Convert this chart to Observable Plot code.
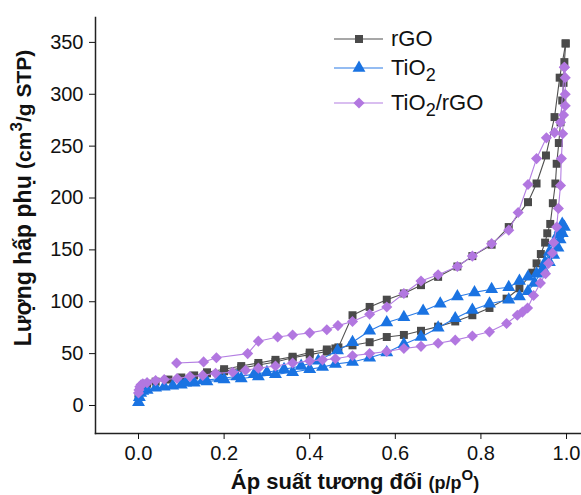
<!DOCTYPE html>
<html><head><meta charset="utf-8">
<script src="https://cdn.jsdelivr.net/npm/d3@7"></script>
<script src="https://cdn.jsdelivr.net/npm/@observablehq/plot@0.6"></script>
<style>
body{margin:0;background:#fff;}
#chart{position:relative;width:581px;height:495px;font-family:"Liberation Sans",Arial,sans-serif;}
#legend{position:absolute;left:334px;top:25px;font-size:22px;color:#111;}
#legend .row{position:absolute;left:0;white-space:nowrap;height:26px;}
#legend .row svg{position:absolute;left:0;top:0;}
#legend .row span{position:absolute;left:57px;top:0;line-height:26px;}
</style></head><body><div id="chart"><div id="legend"></div></div>
<script>
// ---------- data ----------
const seriesNames = ["rGO", "TiO2", "TiO2/rGO"];
const xTicks = [0, 0.2, 0.4, 0.6, 0.8, 1.0];
const yTicks = [0, 50, 100, 150, 200, 250, 300, 350];

const rgoAdsP = [0.0,0.002,0.005,0.01,0.02,0.04,0.07,0.1,0.13,0.16,0.2,0.24,0.28,0.32,0.36,0.40,0.44,0.46,0.50,0.54,0.58,0.62,0.66,0.70,0.74,0.78,0.82,0.86,0.89,0.92,0.93,0.94,0.95,0.955,0.962,0.968,0.974,0.977,0.982,0.986,0.99,0.993,0.995,0.998];
const rgoAdsV = [8,13,17,19,21,23,25,27,29,31,33,36,39,42,46,49,52,55,58,61,66,68,72,76,81,87,94,103,113,128,137,146,157,166,175,195,214,233,253,273,294,311,331,349];
const rgoDesP = [0.998,0.984,0.972,0.952,0.93,0.91,0.865,0.825,0.78,0.745,0.70,0.66,0.62,0.58,0.54,0.50,0.467,0.44,0.40,0.36,0.32,0.28,0.24,0.20,0.16];
const rgoDesV = [349,316,278,241,214,196,172,155,144,134,124,116,108,102,95,87,56,54,51,47,44,41,38,35,32];

const tiAdsP = [0.0,0.002,0.005,0.01,0.02,0.04,0.06,0.08,0.1,0.13,0.16,0.2,0.24,0.28,0.32,0.36,0.40,0.43,0.46,0.50,0.54,0.58,0.62,0.66,0.70,0.74,0.78,0.82,0.865,0.89,0.91,0.925,0.94,0.95,0.96,0.97,0.98,0.985,0.99];
const tiAdsV = [3,8,12,14,15,17,18,19,20,22,23,25,26,28,30,32,35,37,40,42,46,51,59,66,75,84,92,98,102,105,110,118,128,138,148,157,165,170,175];
const tiDesP = [0.995,0.99,0.985,0.98,0.97,0.96,0.945,0.93,0.91,0.89,0.865,0.825,0.785,0.745,0.705,0.665,0.62,0.58,0.54,0.50,0.465,0.42,0.38,0.34,0.30,0.27,0.23,0.19,0.15,0.11];
const tiDesV = [172,166,160,152,145,138,132,127,124,120,114,112,109,105,98,91,85,80,72,61,53,43,38,35,32,30,28,26,24,22];

const trAdsP = [0.0,0.001,0.003,0.006,0.01,0.02,0.04,0.06,0.09,0.12,0.15,0.18,0.22,0.25,0.28,0.32,0.36,0.40,0.43,0.46,0.50,0.54,0.58,0.62,0.66,0.70,0.74,0.78,0.82,0.86,0.885,0.897,0.909,0.923,0.939,0.951,0.958,0.967,0.97,0.977,0.981,0.986,0.988,0.991,0.993,0.997,0.997,0.997,0.995];
const trAdsV = [12,15,18,20,21,22,24,25,26,28,29,31,32,34,36,38,41,43,44,45,48,50,52,55,57,60,63,67,71,79,87,90,94,106,118,127,137,147,157,172,190,212,238,262,280,289,300,316,326];
const trDesP = [0.995,0.986,0.972,0.953,0.93,0.91,0.887,0.865,0.825,0.78,0.745,0.70,0.66,0.62,0.58,0.54,0.50,0.466,0.44,0.40,0.36,0.325,0.28,0.255,0.182,0.152,0.089];
const trDesV = [326,273,263,258,238,213,186,169,156,144,134,126,120,108,95,88,81,77,73,70,68,66,62,50,46,42,41];

// ---------- build ----------
function rows(series, branch, P, V) { return P.map((p, i) => ({series, branch, p, v: V[i]})); }
const data = [
  ...rows("rGO", "ads", rgoAdsP, rgoAdsV), ...rows("rGO", "des", rgoDesP, rgoDesV),
  ...rows("TiO2", "ads", tiAdsP, tiAdsV), ...rows("TiO2", "des", tiDesP, tiDesV),
  ...rows("TiO2/rGO", "ads", trAdsP, trAdsV), ...rows("TiO2/rGO", "des", trDesP, trDesV)
];
const style = {
  "rGO":      {fill: "#4a4a4a", line: "#505050", symbol: "square",  r: 4.5},
  "TiO2":     {fill: "#1a73e2", line: "#2a7be6", symbol: "triangle", r: 4.8},
  "TiO2/rGO": {fill: "#b277e0", line: "#b47fe2", symbol: "diamond2", r: 5}
};
const marks = [];
for (const s of seriesNames) {
  const d = data.filter(r => r.series === s);
  marks.push(Plot.line(d, {x: "p", y: "v", z: "branch", stroke: style[s].line, strokeWidth: 1.1}));
  marks.push(Plot.dot(d, {x: "p", y: "v", symbol: () => style[s].symbol, fill: style[s].fill, stroke: "none", r: style[s].r}));
}
const font = '"Liberation Sans", Arial, sans-serif';
const plot = Plot.plot({
  width: 581, height: 495,
  marginLeft: 95, marginRight: 0, marginTop: 17, marginBottom: 62,
  x: {domain: [-0.1005, 1.035]},
  y: {domain: [-27, 374]},
  style: {fontFamily: font, fontSize: "20px", color: "#111", background: "#fff", overflow: "visible"},
  marks: [
    Plot.frame({anchor: "left", stroke: "#222", strokeWidth: 1.5}),
    Plot.frame({anchor: "bottom", stroke: "#222", strokeWidth: 1.5}),
    Plot.axisX({ticks: xTicks, tickFormat: d3.format(".1f"), tickSize: 6, tickPadding: 6, label: null, fontSize: 20}),
    Plot.axisY({ticks: yTicks, tickSize: 6, tickPadding: 6, label: null, fontSize: 20}),
    ...marks
  ]
});
document.getElementById("chart").prepend(plot);

// axis titles
const svg = d3.select(plot);
const yt = svg.append("text").attr("transform", "translate(31,198) rotate(-90)")
  .attr("text-anchor", "middle").attr("font-weight", "bold").attr("fill", "#111").attr("font-family", font);
yt.append("tspan").attr("font-size", 23).text("Lượng hấp phụ ");
yt.append("tspan").attr("font-size", 21).text("(cm");
yt.append("tspan").attr("font-size", 17).attr("dy", -9).text("3");
yt.append("tspan").attr("font-size", 21).attr("dy", 9).text("/g STP)");

const xt = svg.append("text").attr("x", 355).attr("y", 489)
  .attr("text-anchor", "middle").attr("font-weight", "bold").attr("fill", "#111").attr("font-family", font);
xt.append("tspan").attr("font-size", 22).text("Áp suất tương đối ");
xt.append("tspan").attr("font-size", 18).text("(p/p");
xt.append("tspan").attr("font-size", 15).attr("dy", -9).text("O");
xt.append("tspan").attr("font-size", 18).attr("dy", 9).text(")");

// legend
const legendRows = [
  {key: "rGO", html: "rGO", top: 1},
  {key: "TiO2", html: "TiO<sub style='font-size:18px;vertical-align:-6px'>2</sub>", top: 30},
  {key: "TiO2/rGO", html: "TiO<sub style='font-size:18px;vertical-align:-6px'>2</sub>/rGO", top: 65}
];
const leg = d3.select("#legend");
for (const r of legendRows) {
  const row = leg.append("div").attr("class", "row").style("top", r.top + "px");
  const s = row.append("svg").attr("width", 52).attr("height", 26);
  s.append("line").attr("x1", 0).attr("x2", 49).attr("y1", 13).attr("y2", 13).attr("stroke", style[r.key].line).attr("stroke-width", 1.1);
  const sym = {square: d3.symbolSquare, triangle: d3.symbolTriangle, diamond2: d3.symbolDiamond2}[style[r.key].symbol];
  s.append("path").attr("transform", "translate(25,13)").attr("d", d3.symbol(sym, Math.PI * style[r.key].r ** 2)()).attr("fill", style[r.key].fill);
  row.append("span").html(r.html);
}
</script></body></html>
